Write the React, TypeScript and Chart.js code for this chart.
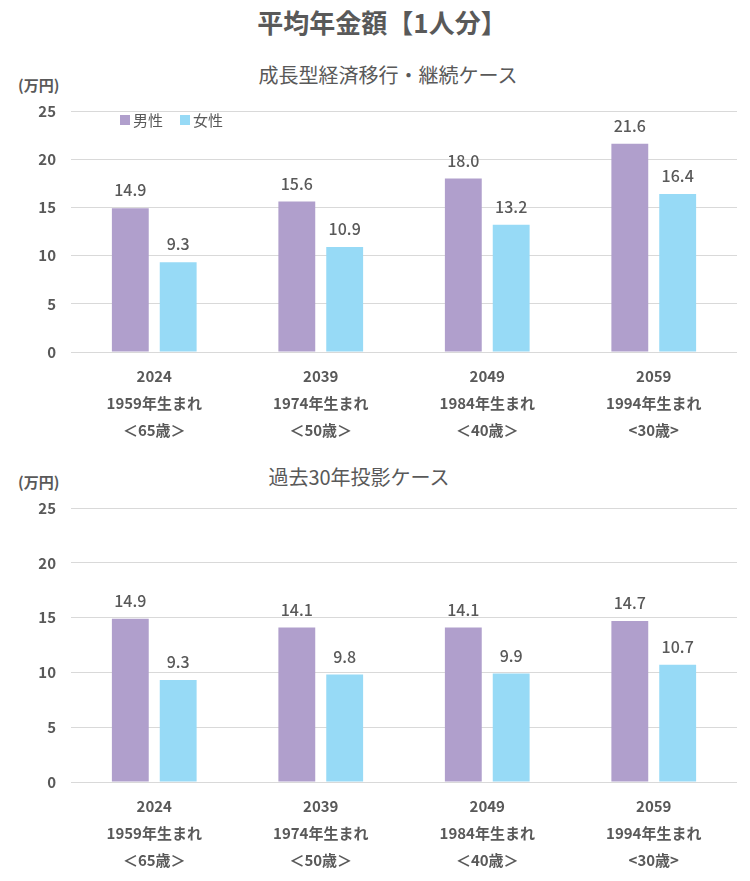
import { useEffect, useRef } from 'react';
import { Chart, registerables } from 'chart.js';

Chart.register(...registerables);

const categories: string[][] = [
  ['2024', '1959年生まれ', '＜65歳＞'],
  ['2039', '1974年生まれ', '＜50歳＞'],
  ['2049', '1984年生まれ', '＜40歳＞'],
  ['2059', '1994年生まれ', '<30歳>'],
];
const seriesNames = ['男性', '女性'];
const growthMale = [14.9, 15.6, 18.0, 21.6];
const growthFemale = [9.3, 10.9, 13.2, 16.4];
const pastMale = [14.9, 14.1, 14.1, 14.7];
const pastFemale = [9.3, 9.8, 9.9, 10.7];
const yMin = 0;
const yMax = 25;
const yStep = 5;

const FONT = '"Noto Sans CJK JP", "Noto Sans", sans-serif';
const TEXT = '#595959';
const PURPLE = '#b09fcc';
const BLUE = '#97daf6';
const GRID = '#d9d9d9';

const valueLabels = {
  id: 'valueLabels',
  afterDatasetsDraw(chart: any) {
    const ctx = chart.ctx;
    ctx.save();
    ctx.font = `500 16px ${FONT}`;
    ctx.fillStyle = TEXT;
    ctx.textAlign = 'center';
    ctx.textBaseline = 'middle';
    chart.data.datasets.forEach((ds: any, i: number) => {
      const meta = chart.getDatasetMeta(i);
      meta.data.forEach((el: any, j: number) => {
        ctx.fillText(Number(ds.data[j]).toFixed(1), el.x, el.y - 18);
      });
    });
    ctx.restore();
  },
};

const innerLegend = {
  id: 'innerLegend',
  afterDraw(chart: any, _args: any, opts: any) {
    if (!opts || !opts.show) return;
    const ctx = chart.ctx;
    const area = chart.chartArea;
    ctx.save();
    ctx.font = `15px ${FONT}`;
    ctx.textBaseline = 'middle';
    let x = area.left + 49;
    const y = area.top + 9;
    chart.data.datasets.forEach((ds: any) => {
      ctx.fillStyle = ds.backgroundColor;
      ctx.fillRect(x, y - 5, 10, 10);
      ctx.fillStyle = TEXT;
      ctx.fillText(ds.label, x + 13, y);
      x += 13 + ctx.measureText(ds.label).width + 17;
    });
    ctx.restore();
  },
};

function BarPanel(props: { male: number[]; female: number[]; legend: boolean; height: number }) {
  const ref = useRef<HTMLCanvasElement | null>(null);
  useEffect(() => {
    if (!ref.current) return;
    const chart = new Chart(ref.current, {
      type: 'bar',
      data: {
        labels: categories,
        datasets: [
          { label: seriesNames[0], data: props.male, backgroundColor: PURPLE, barPercentage: 0.77, categoryPercentage: 0.575 },
          { label: seriesNames[1], data: props.female, backgroundColor: BLUE, barPercentage: 0.77, categoryPercentage: 0.575 },
        ],
      },
      options: {
        animation: false,
        responsive: false,
        maintainAspectRatio: false,
        devicePixelRatio: 1,
        layout: { padding: { top: 10, left: 8, right: 13, bottom: 0 } },
        plugins: {
          legend: { display: false },
          tooltip: { enabled: false },
          title: { display: false },
          innerLegend: { show: props.legend },
        } as any,
        scales: {
          x: {
            grid: { display: false },
            border: { display: false },
            ticks: {
              color: TEXT,
              font: { family: FONT, size: 15, weight: 'bold', lineHeight: 1.8 },
              padding: 3,
              maxRotation: 0,
              autoSkip: false,
            },
            afterFit: (s: any) => { s.height = 98; },
          },
          y: {
            min: yMin,
            max: yMax,
            grid: { color: GRID, drawTicks: false, lineWidth: 1 },
            border: { display: false },
            ticks: {
              stepSize: yStep,
              color: TEXT,
              font: { family: FONT, size: 15, weight: 'bold' },
              padding: 15,
            },
            afterFit: (s: any) => { s.width = 63; },
          },
        },
      },
      plugins: [valueLabels, innerLegend],
    });
    return () => chart.destroy();
  }, []);
  return <canvas ref={ref} width={750} height={props.height} style={{ display: 'block', width: 750, height: props.height }} />;
}

const abs = (top: number, extra: any = {}) => ({ position: 'absolute' as const, top, ...extra });

export default function App() {
  useEffect(() => {
    document.body.style.margin = '0';
  }, []);
  return (
    <div style={{ position: 'relative', width: 750, height: 881, background: '#fff', fontFamily: FONT, color: TEXT, overflow: 'hidden' }}>
      <div style={abs(5, { left: 0, width: 764, textAlign: 'center', fontSize: 26, fontWeight: 'bold', lineHeight: '34px' })}>平均年金額【1人分】</div>

      <div style={abs(61, { left: 0, width: 776, textAlign: 'center', fontSize: 20, lineHeight: '28px' })}>成長型経済移行・継続ケース</div>
      <div style={abs(74, { left: 18, fontSize: 15, fontWeight: 'bold', lineHeight: '22px' })}>(万円)</div>
      <div style={abs(87, { left: 0 })}>
        <BarPanel male={growthMale} female={growthFemale} legend={true} height={363} />
      </div>

      <div style={abs(463, { left: 0, width: 718, textAlign: 'center', fontSize: 20, lineHeight: '28px' })}>過去30年投影ケース</div>
      <div style={abs(471, { left: 18, fontSize: 15, fontWeight: 'bold', lineHeight: '22px' })}>(万円)</div>
      <div style={abs(484, { left: 0 })}>
        <BarPanel male={pastMale} female={pastFemale} legend={false} height={396} />
      </div>
    </div>
  );
}
